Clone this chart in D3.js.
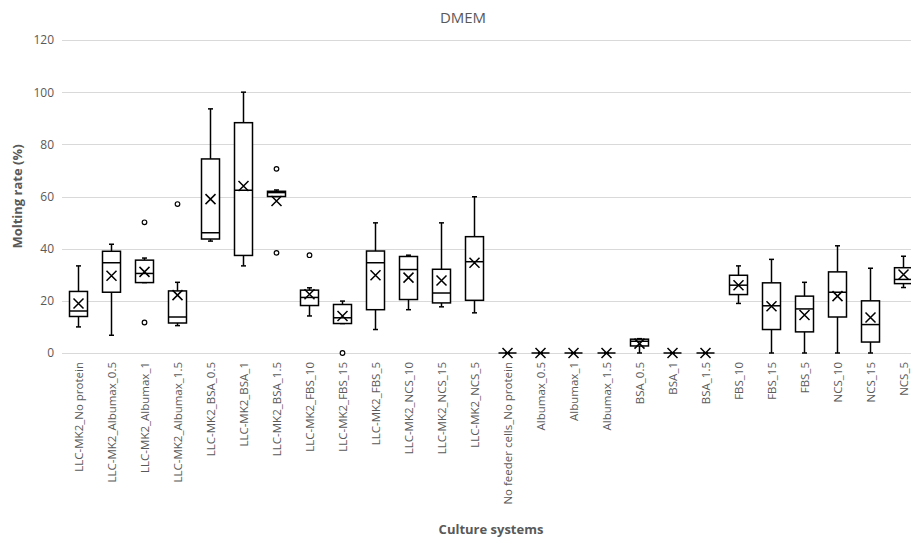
<!DOCTYPE html>
<html>
<head>
<meta charset="utf-8">
<script src="https://cdn.jsdelivr.net/npm/d3@7"></script>
<style>
    body { margin: 0; background: #fff; }
    text { font-family: "Open Sans", "Liberation Sans", sans-serif; fill: #595959; }
</style>
</head>
<body>
<svg id="chart" width="911" height="541"></svg>
<script>
var categories = [
    "LLC-MK2_No protein", "LLC-MK2_Albumax_0.5", "LLC-MK2_Albumax_1", "LLC-MK2_Albumax_1.5",
    "LLC-MK2_BSA_0.5", "LLC-MK2_BSA_1", "LLC-MK2_BSA_1.5", "LLC-MK2_FBS_10", "LLC-MK2_FBS_15",
    "LLC-MK2_FBS_5", "LLC-MK2_NCS_10", "LLC-MK2_NCS_15", "LLC-MK2_NCS_5",
    "No feeder cells_No protein", "Albumax_0.5", "Albumax_1", "Albumax_1.5",
    "BSA_0.5", "BSA_1", "BSA_1.5", "FBS_10", "FBS_15", "FBS_5", "NCS_10", "NCS_15", "NCS_5"
];
var whiskerLow  = [10.0, 6.8, 27.0, 10.5, 42.9, 33.4, 60.0, 14.2, 11.3, 9.0, 16.6, 17.7, 15.4, 0, 0, 0, 0, 0, 0, 0, 19.0, 0, 0, 0, 0, 25.1];
var q1          = [14.0, 23.3, 27.0, 11.5, 43.7, 37.4, 60.0, 18.2, 11.3, 16.6, 20.5, 19.2, 20.2, 0, 0, 0, 0, 2.7, 0, 0, 22.4, 9.0, 8.1, 13.8, 4.2, 26.6];
var median      = [16.1, 34.6, 30.5, 13.8, 46.1, 62.4, 61.5, 21.3, 13.5, 34.6, 32.0, 23.0, 35.0, 0, 0, 0, 0, 4.5, 0, 0, 26.0, 18.1, 16.9, 23.3, 10.9, 28.2];
var q3          = [23.6, 39.0, 35.6, 23.8, 74.4, 88.3, 62.0, 24.1, 18.6, 39.1, 37.0, 32.1, 44.6, 0, 0, 0, 0, 5.3, 0, 0, 29.8, 26.9, 21.8, 31.1, 20.0, 32.7];
var whiskerHigh = [33.4, 41.7, 36.4, 27.1, 93.6, 100, 62.5, 25.0, 19.9, 49.9, 37.5, 49.9, 59.9, 0, 0, 0, 0, 5.5, 0, 0, 33.4, 35.9, 27.1, 41.1, 32.5, 37.1];
var means       = [19.0, 29.6, 31.1, 22.2, 59.0, 64.0, 58.3, 22.5, 14.2, 29.8, 28.9, 27.8, 34.6, 0, 0, 0, 0, 3.6, 0, 0, 26.0, 17.9, 14.6, 21.8, 13.6, 30.1];
var outliers    = [[], [], [50.1, 11.7], [57.1], [], [], [70.6, 38.4], [37.5], [0], [], [], [], [], [], [], [], [], [], [], [], [], [], [], [], [], []];
var yTicks = [0, 20, 40, 60, 80, 100, 120];

var svg = d3.select("#chart");
var margin = {top: 40, left: 62, bottom: 188};
var plotW = 858;   // plot runs past the right edge of the picture
var plotH = 541 - margin.top - margin.bottom;

var x = d3.scaleBand()
    .domain(categories)
    .range([margin.left, margin.left + plotW]);
var y = d3.scaleLinear()
    .domain([0, 120])
    .range([margin.top + plotH, margin.top]);

// gridlines
svg.append("g")
    .selectAll("line")
    .data(yTicks)
    .join("line")
    .attr("x1", margin.left)
    .attr("x2", margin.left + plotW)
    .attr("y1", function(d) { return Math.round(y(d)) + 0.5; })
    .attr("y2", function(d) { return Math.round(y(d)) + 0.5; })
    .attr("stroke", "#d9d9d9")
    .attr("stroke-width", 1);

// y axis labels
var yAxis = svg.append("g")
    .attr("transform", "translate(" + (margin.left - 8) + ",0)")
    .call(d3.axisLeft(y).tickValues(yTicks).tickSize(0).tickPadding(0));
yAxis.select(".domain").remove();
yAxis.selectAll("text")
    .style("font-size", "12px")
    .attr("fill", "#595959");

// x axis labels
var xAxis = svg.append("g")
    .attr("transform", "translate(0," + (margin.top + plotH) + ")")
    .call(d3.axisBottom(x).tickSize(0).tickPadding(0));
xAxis.select(".domain").remove();
xAxis.selectAll("text")
    .style("font-size", "11.5px")
    .attr("fill", "#595959")
    .attr("text-anchor", "end")
    .attr("dy", "0.35em")
    .attr("transform", "translate(0,9) rotate(-90)");

// boxes
var boxW = 18;
var capW = 5;
var groups = svg.append("g")
    .selectAll("g")
    .data(categories)
    .join("g")
    .attr("transform", function(d) { return "translate(" + (x(d) + x.bandwidth() / 2) + ",0)"; });

groups.append("line")
    .attr("y1", function(d, i) { return y(whiskerHigh[i]); })
    .attr("y2", function(d, i) { return y(q3[i]); })
    .attr("stroke", "#000").attr("stroke-width", 1.5);
groups.append("line")
    .attr("y1", function(d, i) { return y(q1[i]); })
    .attr("y2", function(d, i) { return y(whiskerLow[i]); })
    .attr("stroke", "#000").attr("stroke-width", 1.5);
groups.append("line")
    .attr("x1", -capW / 2).attr("x2", capW / 2)
    .attr("y1", function(d, i) { return y(whiskerHigh[i]); })
    .attr("y2", function(d, i) { return y(whiskerHigh[i]); })
    .attr("stroke", "#000").attr("stroke-width", 1.5);
groups.append("line")
    .attr("x1", -capW / 2).attr("x2", capW / 2)
    .attr("y1", function(d, i) { return y(whiskerLow[i]); })
    .attr("y2", function(d, i) { return y(whiskerLow[i]); })
    .attr("stroke", "#000").attr("stroke-width", 1.5);
groups.append("rect")
    .attr("x", -boxW / 2)
    .attr("width", boxW)
    .attr("y", function(d, i) { return y(q3[i]); })
    .attr("height", function(d, i) { return y(q1[i]) - y(q3[i]); })
    .attr("fill", "#fff")
    .attr("stroke", "#000").attr("stroke-width", 1.5);
groups.append("line")
    .attr("x1", -boxW / 2).attr("x2", boxW / 2)
    .attr("y1", function(d, i) { return y(median[i]); })
    .attr("y2", function(d, i) { return y(median[i]); })
    .attr("stroke", "#000").attr("stroke-width", 1.5);

// mean markers
groups.append("path")
    .attr("d", function(d, i) {
        var cy = y(means[i]), s = 5;
        return "M" + (-s) + "," + (cy - s) + "L" + s + "," + (cy + s) +
               "M" + s + "," + (cy - s) + "L" + (-s) + "," + (cy + s);
    })
    .attr("stroke", "#000").attr("stroke-width", 1.5).attr("fill", "none");

// outliers
groups.selectAll("circle")
    .data(function(d, i) { return outliers[i]; })
    .join("circle")
    .attr("r", 2.3)
    .attr("cy", function(v) { return y(v); })
    .attr("fill", "#fff")
    .attr("stroke", "#000").attr("stroke-width", 1.2);

// titles
svg.append("text")
    .attr("x", 463).attr("y", 23)
    .attr("text-anchor", "middle")
    .style("font-size", "15px")
    .text("DMEM");
svg.append("text")
    .attr("transform", "translate(22," + (margin.top + plotH / 2) + ") rotate(-90)")
    .attr("text-anchor", "middle")
    .style("font-size", "13px")
    .style("font-weight", "bold")
    .text("Molting rate (%)");
svg.append("text")
    .attr("x", margin.left + plotW / 2).attr("y", 534)
    .attr("text-anchor", "middle")
    .style("font-size", "13px")
    .style("font-weight", "bold")
    .text("Culture systems");
</script>
</body>
</html>
